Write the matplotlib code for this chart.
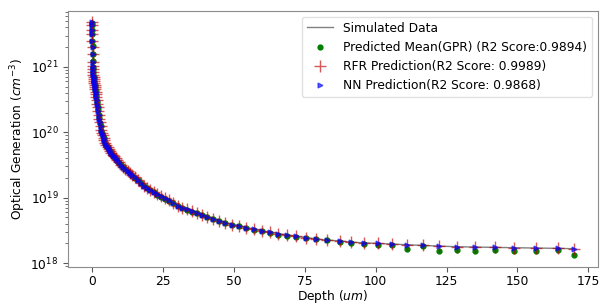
import numpy as np
import matplotlib
matplotlib.use('Agg')
import matplotlib.pyplot as plt

# depth grid (um), fine near the surface
depth = [0, 0.01, 0.03, 0.05, 0.08, 0.11, 0.15, 0.2, 0.25, 0.3, 0.36, 0.42, 0.5, 0.58,
         0.67, 0.76, 0.86, 0.97, 1.08, 1.2, 1.33, 1.47, 1.62, 1.78, 1.95, 2.13, 2.32,
         2.52, 2.73, 2.95, 3.2, 3.45, 3.7, 4.0, 4.3, 4.65, 5.0, 5.4, 5.8, 6.2, 6.7, 7.2,
         7.7, 8.3, 8.9, 9.5, 10.2, 10.9, 11.7, 12.5, 13.3, 14.2, 15.1, 16.1, 17.1, 18.2,
         19.3, 20.5, 21.7, 23.0, 24.3, 25.7, 27.1, 28.6, 30.1, 31.7, 33.4, 35.1, 36.9,
         38.7, 40.6, 42.6, 44.6, 46.8, 49.2, 51.7, 54.3, 57.0, 59.8, 62.7, 65.7, 68.8,
         72.0, 75.3, 79.1, 83.0, 87.3, 91.2, 95.8, 100.8, 105.8, 111.1, 116.8, 122.5,
         128.6, 135.0, 142.1, 148.9, 156.7, 164.2, 170.0]

# simulated optical generation (cm^-3)
simulated = [4.79e21, 4.37e21, 3.72e21, 3.16e21, 2.51e21, 2.00e21, 1.55e21, 1.20e21, 1.02e21,
             9.12e20, 8.32e20, 7.59e20, 7.08e20, 6.61e20, 6.17e20, 5.75e20, 5.37e20, 4.90e20,
             4.57e20, 4.17e20, 3.80e20, 3.47e20, 3.09e20, 2.75e20, 2.45e20, 2.14e20, 1.86e20,
             1.62e20, 1.41e20, 1.23e20, 1.08e20, 9.80e19, 8.95e19, 8.15e19, 7.50e19, 6.85e19,
             6.35e19, 5.89e19, 5.50e19, 5.13e19, 4.79e19, 4.52e19, 4.27e19, 3.98e19, 3.72e19,
             3.47e19, 3.16e19, 2.95e19, 2.75e19, 2.57e19, 2.40e19, 2.19e19, 2.04e19, 1.86e19,
             1.70e19, 1.53e19, 1.41e19, 1.32e19, 1.23e19, 1.12e19, 1.05e19, 9.77e18, 9.12e18,
             8.32e18, 7.59e18, 7.08e18, 6.61e18, 6.17e18, 5.89e18, 5.50e18, 5.13e18, 4.79e18,
             4.47e18, 4.17e18, 3.89e18, 3.72e18, 3.47e18, 3.31e18, 3.09e18, 2.95e18, 2.82e18,
             2.69e18, 2.57e18, 2.45e18, 2.34e18, 2.24e18, 2.19e18, 2.09e18, 2.04e18, 2.00e18,
             1.95e18, 1.91e18, 1.86e18, 1.82e18, 1.78e18, 1.76e18, 1.74e18, 1.72e18, 1.70e18,
             1.68e18, 1.66e18]

gpr = [4.60e21, 4.30e21, 3.60e21, 3.20e21, 2.50e21, 2.05e21, 1.55e21, 1.22e21, 1.00e21,
       9.20e20, 8.20e20, 7.60e20, 7.00e20, 6.70e20, 6.10e20, 5.80e20, 5.30e20, 4.95e20,
       4.50e20, 4.20e20, 3.75e20, 3.50e20, 3.05e20, 2.80e20, 2.40e20, 2.18e20, 1.82e20,
       1.65e20, 1.38e20, 1.25e20, 1.06e20, 9.90e19, 8.80e19, 8.20e19, 7.40e19, 6.90e19,
       6.25e19, 5.90e19, 5.40e19, 5.15e19, 4.70e19, 4.50e19, 4.20e19, 3.95e19, 3.68e19,
       3.45e19, 3.14e19, 2.93e19, 2.72e19, 2.55e19, 2.37e19, 2.17e19, 2.01e19, 1.84e19,
       1.68e19, 1.51e19, 1.39e19, 1.30e19, 1.21e19, 1.11e19, 1.04e19, 9.60e18, 9.00e18,
       8.20e18, 7.50e18, 7.00e18, 6.50e18, 6.10e18, 5.75e18, 5.40e18, 5.05e18, 4.70e18,
       4.40e18, 4.10e18, 3.80e18, 3.70e18, 3.40e18, 3.18e18, 3.05e18, 2.90e18, 2.70e18,
       2.58e18, 2.48e18, 2.38e18, 2.30e18, 2.22e18, 2.08e18, 2.00e18, 1.96e18, 1.92e18,
       1.86e18, 1.65e18, 1.80e18, 1.53e18, 1.60e18, 1.53e18, 1.60e18, 1.55e18, 1.55e18,
       1.57e18, 1.32e18]

rfr = simulated
nn = simulated

plt.rcParams['font.size'] = 8.8

fig = plt.figure(figsize=(6.03, 3.05), dpi=100)
ax = fig.add_axes([0.113, 0.125, 0.879, 0.84])

ax.plot(depth, simulated, color='grey', linewidth=1, label='Simulated Data')
ax.plot(depth, gpr, '.', color='green', markersize=7, label='Predicted Mean(GPR) (R2 Score:0.9894)')
ax.plot(depth, rfr, '+', color='#c00000', markersize=8, alpha=0.65, label='RFR Prediction(R2 Score: 0.9989)')
ax.plot(depth, nn, '>', color='blue', markersize=3.5, alpha=0.6, label='NN Prediction(R2 Score: 0.9868)')

ax.set_yscale('log')
ax.set_xticks([0, 25, 50, 75, 100, 125, 150, 175])
ax.set_xlabel('Depth ($um$)', labelpad=0)
ax.set_ylabel('Optical Generation ($cm^{-3}$)', labelpad=2)

for s in ax.spines.values():
    s.set_color('0.55')
ax.tick_params(which='both', colors='0.35', labelcolor='black')
ax.tick_params(axis='x', pad=2)

leg = ax.legend(loc='upper right', fontsize=8.8, handlelength=2.2)
leg.get_frame().set_edgecolor('0.85')

fig.savefig('out.png', dpi=100)
